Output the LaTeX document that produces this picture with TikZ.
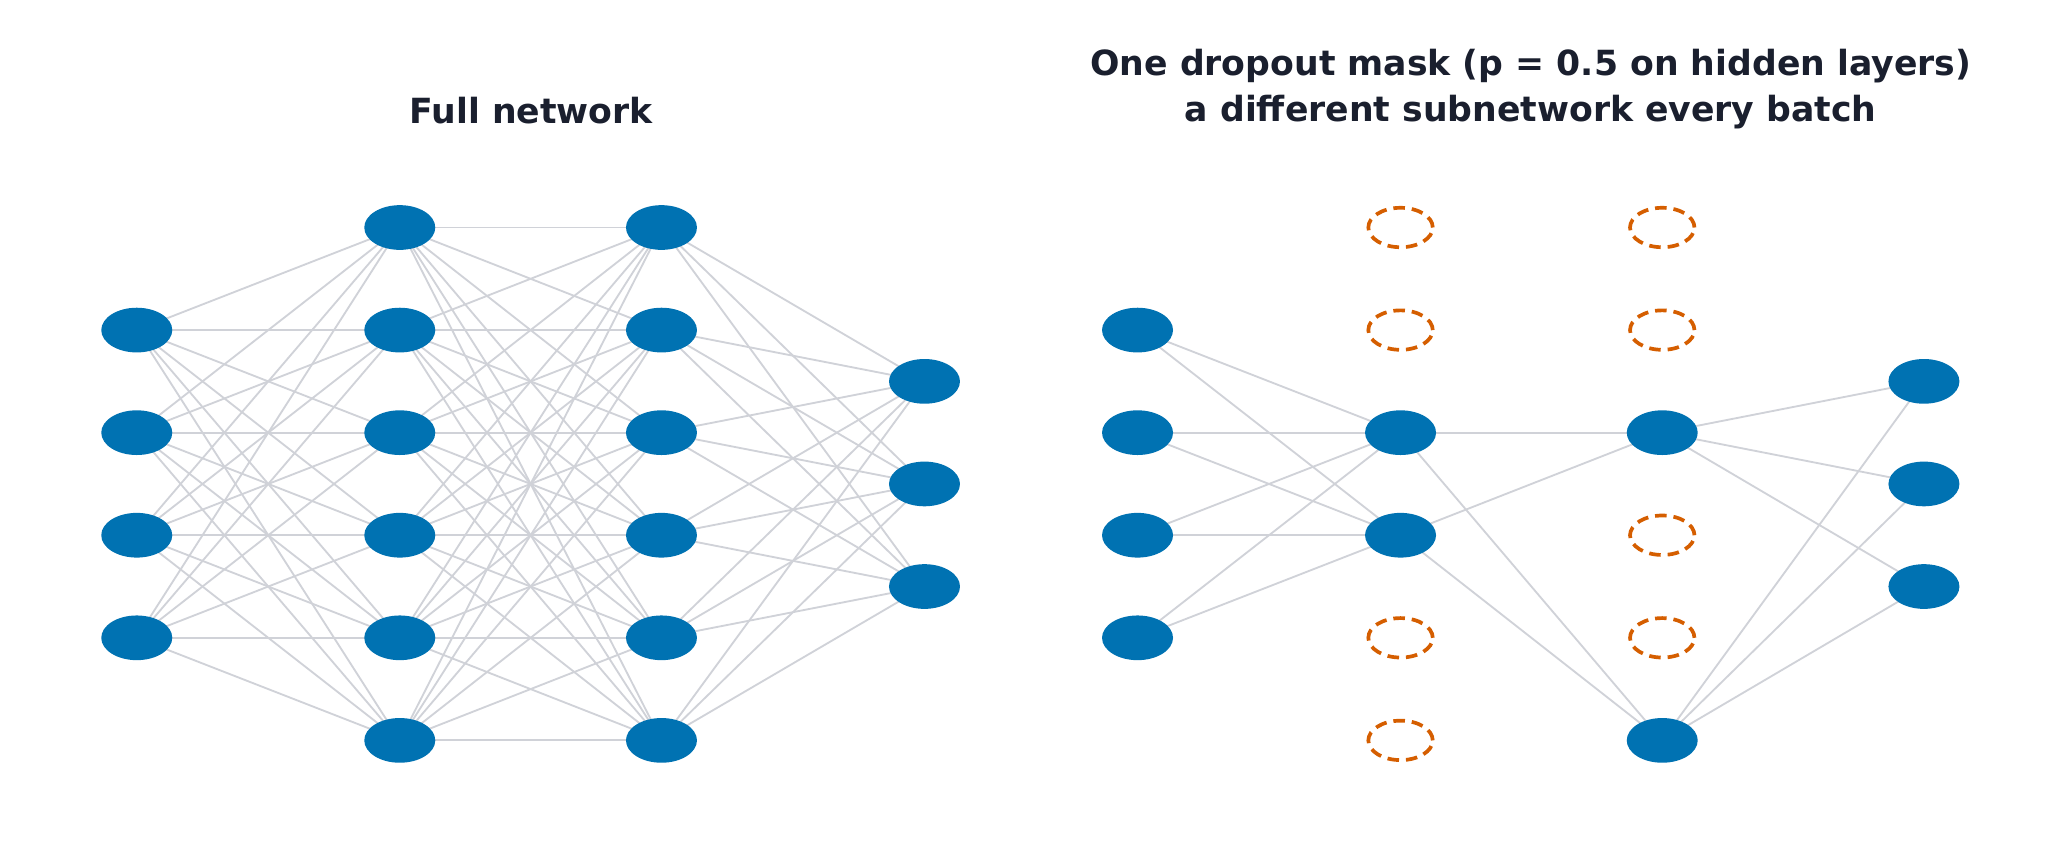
\documentclass[tikz,border=0pt]{standalone}
\usepackage{fontspec}
\setmainfont{DejaVu Sans}
\usetikzlibrary{shapes.geometric,backgrounds}
\definecolor{nblue}{HTML}{0072B2}
\definecolor{norange}{HTML}{D55E00}
\definecolor{edge}{HTML}{D0D2D8}
\definecolor{ttl}{HTML}{1A1F2E}
\begin{document}
\begin{tikzpicture}[x=0.02cm,y=-0.02cm,
  neuron/.style={ellipse,fill=nblue,minimum width=1.08cm,minimum height=0.68cm,inner sep=0pt},
  dropped/.style={ellipse,draw=norange,line width=1.6pt,dash pattern=on 5pt off 3pt,minimum width=0.98cm,minimum height=0.6cm,inner sep=0pt},
  conn/.style={draw=edge,line width=0.8pt},
  title/.style={font=\bfseries\fontsize{15}{20}\selectfont,text=ttl,align=center}]
\useasboundingbox (0,0) rectangle (1568,656);
\node[title] (t1) at (404,84) {Full network};
\node[title] (t2) at (1164,68) {One dropout mask (p = 0.5 on hidden layers)\\a different subnetwork every batch};
% left network
\foreach \i/\y in {1/251,2/329,3/407,4/485} \node[neuron] (a\i) at (104,\y) {};
\foreach \i/\y in {1/173,2/251,3/329,4/407,5/485,6/563} {\node[neuron] (b\i) at (304,\y) {}; \node[neuron] (c\i) at (503,\y) {};}
\foreach \i/\y in {1/290,2/368,3/446} \node[neuron] (d\i) at (703,\y) {};
\begin{scope}[on background layer]
\foreach \i in {1,...,4} \foreach \j in {1,...,6} \draw[conn] (a\i.center) -- (b\j.center);
\foreach \i in {1,...,6} \foreach \j in {1,...,6} \draw[conn] (b\i.center) -- (c\j.center);
\foreach \i in {1,...,6} \foreach \j in {1,...,3} \draw[conn] (c\i.center) -- (d\j.center);
\end{scope}
% right network
\foreach \i/\y in {1/251,2/329,3/407,4/485} \node[neuron] (p\i) at (865,\y) {};
\node[dropped] (q1) at (1065,173) {};
\node[dropped] (q2) at (1065,251) {};
\node[neuron] (q3) at (1065,329) {};
\node[neuron] (q4) at (1065,407) {};
\node[dropped] (q5) at (1065,485) {};
\node[dropped] (q6) at (1065,563) {};
\node[dropped] (r1) at (1264,173) {};
\node[dropped] (r2) at (1264,251) {};
\node[neuron] (r3) at (1264,329) {};
\node[dropped] (r4) at (1264,407) {};
\node[dropped] (r5) at (1264,485) {};
\node[neuron] (r6) at (1264,563) {};
\foreach \i/\y in {1/290,2/368,3/446} \node[neuron] (s\i) at (1463,\y) {};
\begin{scope}[on background layer]
\foreach \i in {1,...,4} \foreach \j in {3,4} \draw[conn] (p\i.center) -- (q\j.center);
\foreach \i in {3,4} \foreach \j in {3,6} \draw[conn] (q\i.center) -- (r\j.center);
\foreach \i in {3,6} \foreach \j in {1,...,3} \draw[conn] (r\i.center) -- (s\j.center);
\end{scope}
\end{tikzpicture}
\end{document}
